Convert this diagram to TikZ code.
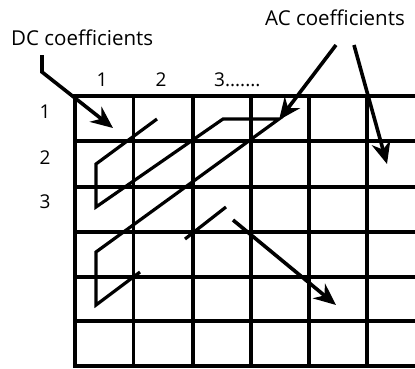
\documentclass[tikz,border=0pt]{standalone}
\usepackage{fontspec}
\setmainfont{Open Sans}
\usetikzlibrary{arrows.meta}
\begin{document}
\begin{tikzpicture}[x=1pt,y=-1pt,
  gridline/.style={line width=3.6pt},
  zig/.style={line width=3.2pt, line join=miter},
  pointer/.style={line width=3.6pt, -{Stealth[length=22pt,width=19pt,inset=7pt]}},
  lbl/.style={font=\fontsize{20.5}{24}\selectfont, inner sep=0pt, anchor=base west},
  num/.style={font=\fontsize{19}{22}\selectfont, inner sep=0pt, anchor=base}]
\useasboundingbox (0,0) rectangle (415,368);
% grid
\foreach \y in {96,141,187,232,277,321,366} \draw[gridline] (73.2,\y) -- (416,\y);
\foreach \x in {75,133.5,193,251,309,367} \draw[gridline] (\x,94.2) -- (\x,367.8);
% labels
\node[lbl] (dc) at (11,45) {DC coefficients};
\node[lbl] (ac) at (265,25) {AC coefficients};
\node[num] (c1) at (102,86) {1};
\node[num] (c2) at (161,86) {2};
\node[num, anchor=base west] (c3) at (214,86) {3.......};
\node[num] (r1) at (45,118) {1};
\node[num] (r2) at (45,164) {2};
\node[num] (r3) at (45,208) {3};
% zigzag scan
\coordinate (z0) at (157,119);
\coordinate (z1) at (96,164);
\coordinate (z2) at (96,207);
\coordinate (z3) at (223,119);
\coordinate (z4) at (279,119);
\coordinate (z5) at (96,252);
\coordinate (z6) at (96,305);
\coordinate (z7) at (140,272);
\draw[zig] (z0) -- (z1) -- (z2) -- (z3) -- (z4) -- (z5) -- (z6) -- (z7);
\coordinate (s0) at (185,239);
\coordinate (s1) at (226,207);
\draw[zig] (s0) -- (s1);
% arrows
\coordinate (dcA) at (42,55);
\coordinate (dcB) at (42,72);
\coordinate (dcT) at (113,128);
\draw[pointer] (dcA) -- (dcB) -- (dcT);
\coordinate (acA) at (336,45);
\coordinate (acT) at (279,120);
\draw[pointer] (acA) -- (acT);
\coordinate (acB) at (354,45);
\coordinate (acU) at (387,164);
\draw[pointer] (acB) -- (acU);
\coordinate (mA) at (233,220);
\coordinate (mT) at (336,305);
\draw[pointer] (mA) -- (mT);
\end{tikzpicture}
\end{document}
